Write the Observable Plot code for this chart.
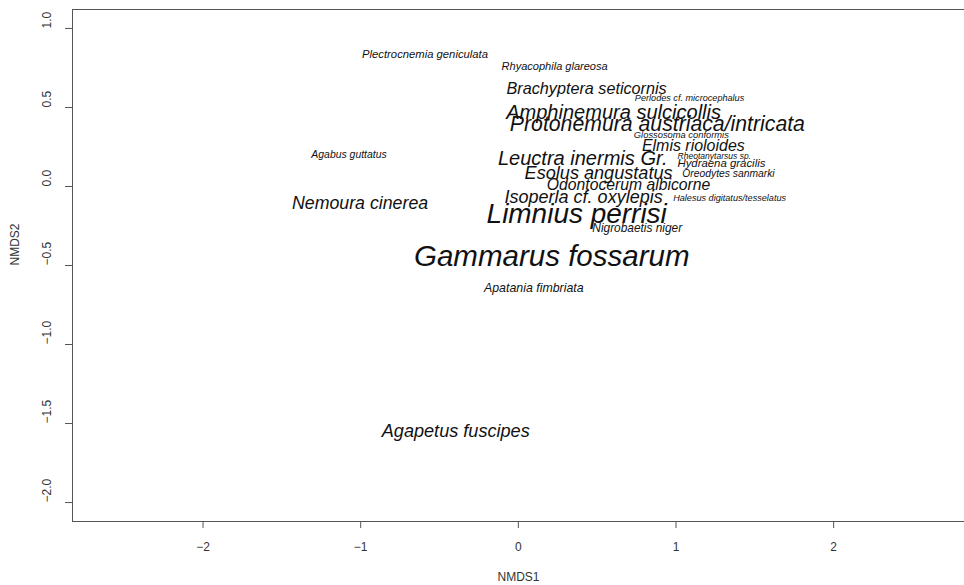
<!DOCTYPE html>
<html>
<head>
<meta charset="utf-8">
<script src="https://cdn.jsdelivr.net/npm/d3@7"></script>
<script src="https://cdn.jsdelivr.net/npm/@observablehq/plot@0.6"></script>
<style>
  html, body { margin: 0; padding: 0; background: #fff; }
  #chart svg { display: block; }
</style>
</head>
<body>
<div id="chart"></div>
<script>
// Species scores from the NMDS ordination
const species = [
  "Plectrocnemia geniculata", "Rhyacophila glareosa", "Brachyptera seticornis",
  "Perlodes cf. microcephalus", "Amphinemura sulcicollis", "Protonemura austriaca/intricata",
  "Glossosoma conformis", "Elmis rioloides", "Agabus guttatus", "Leuctra inermis Gr.",
  "Rheotanytarsus sp.", "Hydraena gracilis", "Esolus angustatus", "Oreodytes sanmarki",
  "Odontocerum albicorne", "Nemoura cinerea", "Isoperla cf. oxylepis",
  "Halesus digitatus/tesselatus", "Limnius perrisi", "Nigrobaetis niger",
  "Gammarus fossarum", "Apatania fimbriata", "Agapetus fuscipes"
];
const nmds1 = [
  -0.592, 0.230, 0.433,
  1.086, 0.604, 0.882,
  1.034, 1.110, -1.074, 0.408,
  1.243, 1.288, 0.509, 1.333,
  0.699, -1.004, 0.414,
  1.340, 0.370, 0.754,
  0.212, 0.098, -0.397
];
const nmds2 = [
  0.835, 0.758, 0.618,
  0.561, 0.466, 0.391,
  0.327, 0.258, 0.201, 0.175,
  0.194, 0.144, 0.087, 0.080,
  0.011, -0.109, -0.065,
  -0.072, -0.173, -0.261,
  -0.446, -0.642, -1.547
];
// relative label size (cex), reflecting abundance
const cex = [
  0.94, 0.92, 1.35,
  0.76, 1.67, 1.77,
  0.78, 1.33, 0.87, 1.67,
  0.71, 0.95, 1.51, 0.86,
  1.31, 1.48, 1.50,
  0.76, 2.33, 0.99,
  2.46, 1.03, 1.51
];
const xTicks = [-2, -1, 0, 1, 2];
const yTicks = [-2.0, -1.5, -1.0, -0.5, 0.0, 0.5, 1.0];

const rows = species.map((s, i) => ({name: s, x: nmds1[i], y: nmds2[i], cex: cex[i]}));
const minus = v => (v < 0 ? "\u2212" : "") + Math.abs(v);
const minus1 = v => (v < 0 ? "\u2212" : "") + Math.abs(v).toFixed(1);

const axisColor = "#555";
const chart = Plot.plot({
  width: 964,
  height: 585,
  marginLeft: 72,
  marginRight: 0,
  marginTop: 9,
  marginBottom: 64,
  x: {domain: [-2.828, 2.83]},
  y: {domain: [-2.12, 1.12]},
  style: {fontFamily: "'Liberation Sans', Arial, Helvetica, sans-serif", fontSize: "12px", color: "#333", background: "#fff"},
  marks: [
    Plot.frame({stroke: axisColor}),
    Plot.axisX(xTicks, {tickSize: 7, tickPadding: 14, tickFormat: minus, stroke: axisColor, fill: "#333", fontSize: 12, label: null}),
    Plot.axisY(yTicks, {tickSize: 7, tickFormat: () => "", stroke: axisColor, label: null}),
    Plot.text(yTicks, {y: d => d, text: minus1, frameAnchor: "left", dx: -25, rotate: -90, fontSize: 12, fill: "#333"}),
    Plot.text(["NMDS1"], {frameAnchor: "bottom", dy: 59, fontSize: 12, fill: "#333"}),
    Plot.text(["NMDS2"], {frameAnchor: "left", dx: -57, rotate: -90, fontSize: 12, fill: "#333"}),
    Plot.text(rows, {x: "x", y: "y", text: "name", fontSize: d => d.cex * 12, fontStyle: "italic", fill: "#111"})
  ]
});
document.getElementById("chart").appendChild(chart);
</script>
</body>
</html>
